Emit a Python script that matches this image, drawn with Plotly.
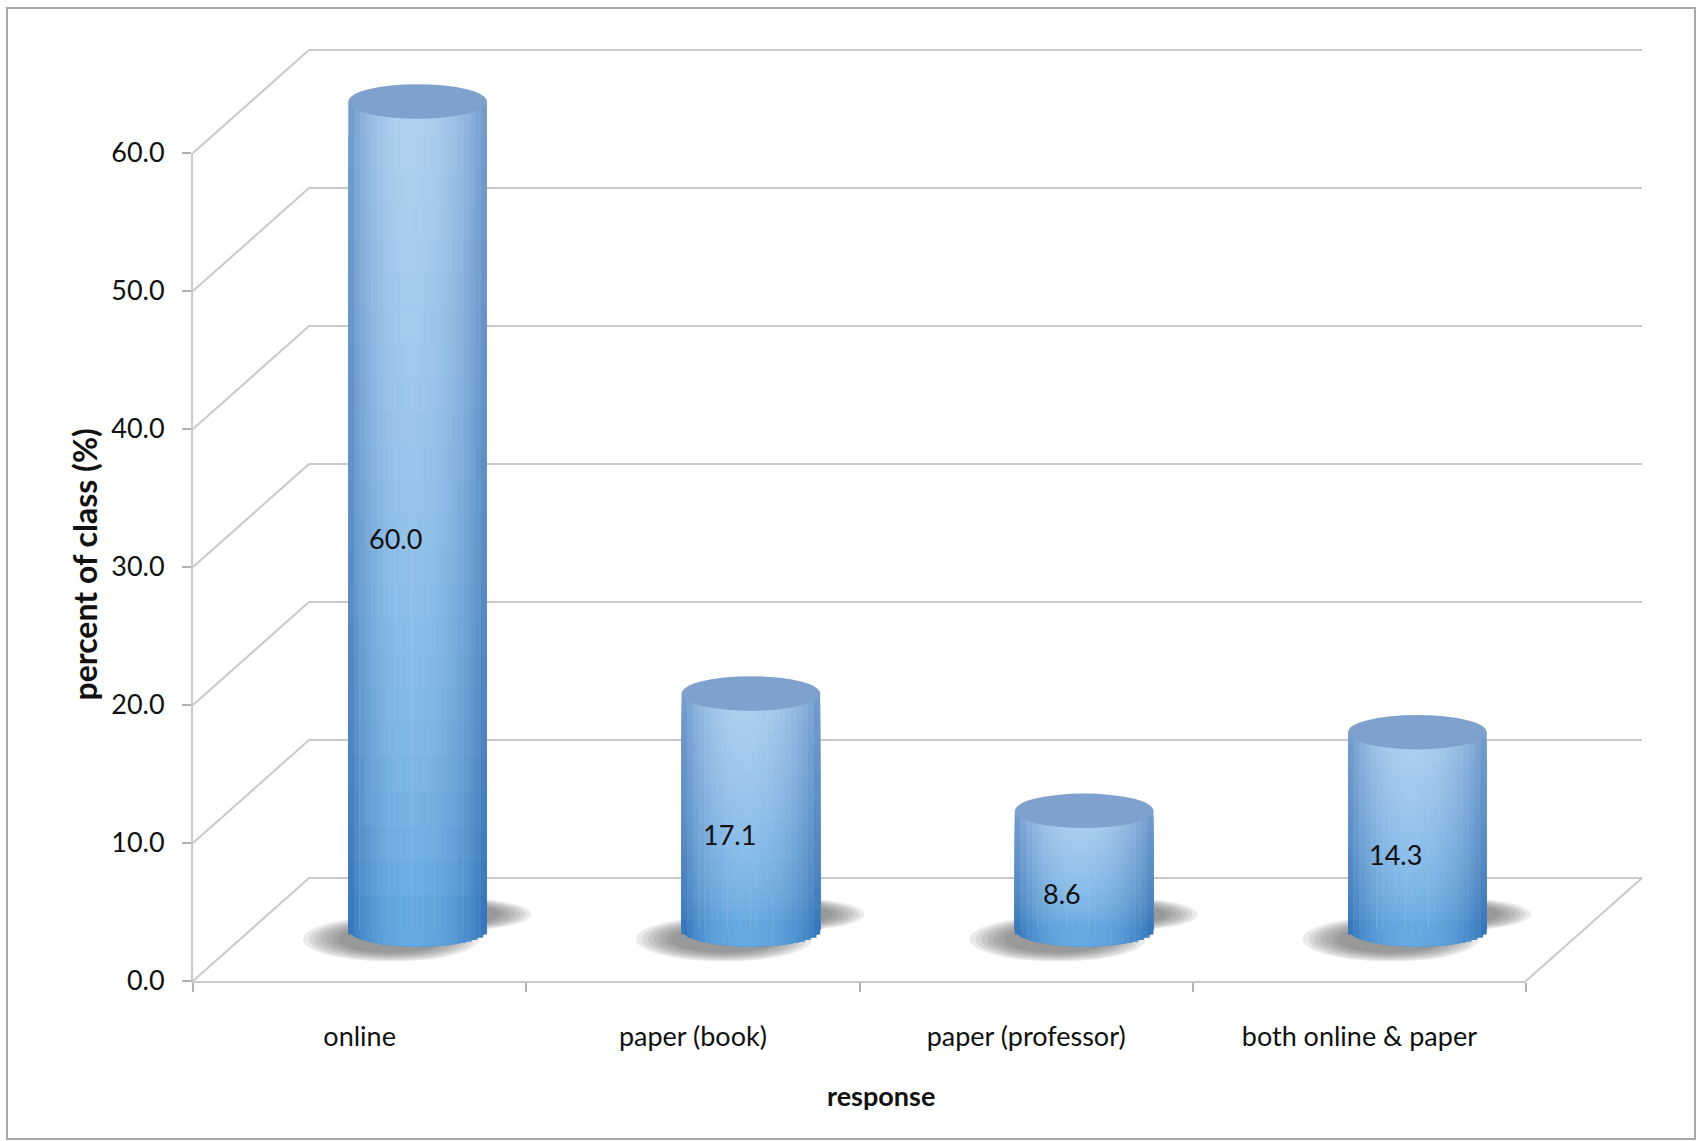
import math
import plotly.graph_objects as go

# ---------------- data ----------------
categories = ["online", "paper (book)", "paper (professor)", "both online & paper"]
values = [60.0, 17.1, 8.6, 14.3]
y_ticks = [0, 10, 20, 30, 40, 50, 60]
x_title = "response"
y_title = "percent of class (%)"

# ---------------- geometry (pixels) ----------------
W, H = 1699, 1141
S = 13.8                 # px per percent unit
FX0, FX1, FY0 = 193, 1526, 981   # front plane: left x, right x, zero y (from top)
BDX, BDY = 116, 103      # back-wall offset
MDX, MDY = 58, 51.5      # middle plane offset (cylinders)
FONT = "Lato, 'Open Sans', sans-serif"
GRID = "#c9c9c9"


def ydom(zero_px, lo, hi):
    base = H - zero_px
    return [(base + lo * S) / H, (base + hi * S) / H]


def px(x, y):
    return x / W, 1 - y / H


fig = go.Figure()

# front subplot (axis labels)
fig.add_trace(go.Scatter(x=categories, y=values, mode="markers",
                         marker=dict(opacity=0), hoverinfo="skip",
                         showlegend=False, xaxis="x", yaxis="y"))
# back wall subplot (gridlines)
fig.add_trace(go.Scatter(x=[0], y=[0], mode="markers", marker=dict(opacity=0),
                         hoverinfo="skip", showlegend=False, xaxis="x2", yaxis="y2"))

# ---------------- cylinders ----------------
WC = 0.416
E = 1.25
N, M = 24, 24
edge_top, high_top = (106, 148, 199), (176, 210, 240)
edge_bot, high_bot = (42, 108, 178), (94, 165, 224)


def lerp(a, b, t):
    return tuple(a[k] + (b[k] - a[k]) * t for k in range(3))


def shade(u, t):
    tt = t ** 0.6
    e = lerp(edge_bot, edge_top, tt)
    h = lerp(high_bot, high_top, tt)
    d = (u - 0.45) / (0.45 if u < 0.45 else 0.55)
    p = max(0.0, 1 - d * d) ** 0.8
    c = lerp(e, h, p)
    return "rgb(%d,%d,%d)" % tuple(int(round(v)) for v in c)


w = WC / N
for j in range(N):
    u = (j + 0.5) / N
    xn = (u - 0.5) * 2
    depth = E * math.sqrt(max(0.0, 1 - xn * xn))
    for s in range(M - 1, -1, -1):
        frac = (s + 1) / M
        if s == 0:
            base = [-depth] * len(values)
            yv = [v * frac + depth for v in values]
        else:
            base = [0] * len(values)
            yv = [v * frac for v in values]
        fig.add_trace(go.Bar(
            x=categories, y=yv, base=base,
            offset=-WC / 2 + j * w, width=(w * 1.35 if j < N - 1 else w),
            marker=dict(color=shade(u, (s + 0.5) / M), line=dict(width=0)),
            hoverinfo="skip", showlegend=False, xaxis="x3", yaxis="y3"))

shapes = []
# frame
shapes.append(dict(type="rect", xref="paper", yref="paper",
                   x0=px(7, 0)[0], x1=px(1695, 0)[0], y0=px(0, 1139)[1], y1=px(0, 8)[1],
                   line=dict(color="#a8a8a8", width=2), layer="below"))
# left wall diagonals
for k in y_ticks:
    x0, y0 = px(FX0, FY0 - k * S)
    x1, y1 = px(FX0 + BDX, FY0 - BDY - k * S)
    shapes.append(dict(type="line", xref="paper", yref="paper", x0=x0, y0=y0, x1=x1, y1=y1,
                       line=dict(color=GRID, width=2), layer="below"))
# right floor edge
x0, y0 = px(FX1, FY0)
x1, y1 = px(FX1 + BDX, FY0 - BDY)
shapes.append(dict(type="line", xref="paper", yref="paper", x0=x0, y0=y0, x1=x1, y1=y1,
                   line=dict(color=GRID, width=2), layer="below"))

blur = [1.2, 1.12, 1.04, 0.96, 0.88, 0.8, 0.72]
for i, v in enumerate(values):
    # soft shadow
    for sc in blur:
        for cx, cy, hx, hy in ((-0.08, -0.7, 0.22, 1.35), (0.1, 1.1, 0.2, 1.0)):
            shapes.append(dict(type="circle", xref="x3", yref="y3", layer="below",
                               x0=i + cx - hx * sc, x1=i + cx + hx * sc,
                               y0=cy - hy * sc, y1=cy + hy * sc,
                               fillcolor="#606060", opacity=0.13, line=dict(width=0)))
    # bottom ellipse
    shapes.append(dict(type="circle", xref="x3", yref="y3", layer="below",
                       x0=i - WC / 2, x1=i + WC / 2, y0=-E, y1=E,
                       fillcolor="#3479bd", line=dict(width=0)))
    # top cap
    shapes.append(dict(type="circle", xref="x3", yref="y3", layer="above",
                       x0=i - WC / 2, x1=i + WC / 2, y0=v - E, y1=v + E,
                       fillcolor="#7ea1cd", line=dict(width=0)))

annotations = []
for i, v in enumerate(values):
    annotations.append(dict(x=i - 0.065, y=v / 2 - 1.7, xref="x3", yref="y3",
                            text="%.1f" % v, showarrow=False,
                            xanchor="center", yanchor="middle",
                            font=dict(family=FONT, size=27, color="#111111")))
ax, ay = px(84.5, 565)
annotations.append(dict(x=ax, y=ay, xref="paper", yref="paper", text="<b>%s</b>" % y_title,
                        textangle=-90, showarrow=False, xanchor="center", yanchor="middle",
                        font=dict(family=FONT, size=32, color="#111111")))
ax, ay = px(881, 1095)
annotations.append(dict(x=ax, y=ay, xref="paper", yref="paper", text="<b>%s</b>" % x_title,
                        showarrow=False, xanchor="center", yanchor="middle",
                        font=dict(family=FONT, size=27, color="#111111")))

fig.update_layout(
    template="none",
    width=W, height=H, autosize=False,
    margin=dict(l=0, r=0, t=0, b=0, pad=0, autoexpand=False),
    paper_bgcolor="white", plot_bgcolor="rgba(0,0,0,0)",
    barmode="overlay", showlegend=False,
    font=dict(family=FONT, size=27, color="#111111"),
    xaxis=dict(domain=[FX0 / W, FX1 / W], type="category", range=[-0.5, 3.5],
               anchor="y", showline=True, linecolor=GRID, linewidth=2, automargin=False,
               ticks="outside", tickson="boundaries", ticklen=9, tickwidth=2,
               tickcolor="#b0b0b0", showgrid=False, zeroline=False,
               tickfont=dict(family=FONT, size=27, color="#111111"),
               ticklabelstandoff=31),
    yaxis=dict(domain=ydom(FY0, -0.001, 60.001), range=[-0.001, 60.001], anchor="x",
               tickvals=y_ticks, tickformat=".1f", showline=True, linecolor=GRID,
               linewidth=2, ticks="outside", ticklen=9, tickwidth=2, tickcolor="#b0b0b0",
               showgrid=False, zeroline=False, ticklabelstandoff=12, automargin=False,
               tickfont=dict(family=FONT, size=27, color="#111111")),
    xaxis2=dict(domain=[(FX0 + BDX) / W, (FX1 + BDX) / W], range=[-0.5, 3.5],
                anchor="y2", visible=False, automargin=False),
    yaxis2=dict(domain=ydom(FY0 - BDY, -1, 62), range=[-1, 62], anchor="x2",
                tick0=0, dtick=10, showgrid=True, gridcolor=GRID, gridwidth=2,
                showticklabels=False, ticks="", showline=False, zeroline=False,
                automargin=False),
    xaxis3=dict(domain=[(FX0 + MDX) / W, (FX1 + MDX) / W], type="category",
                range=[-0.5, 3.5], anchor="y3", visible=False, automargin=False),
    yaxis3=dict(domain=ydom(FY0 - MDY, -4, 66), range=[-4, 66], anchor="x3",
                visible=False, automargin=False),
    shapes=shapes, annotations=annotations,
)

fig.write_html("out.html")
